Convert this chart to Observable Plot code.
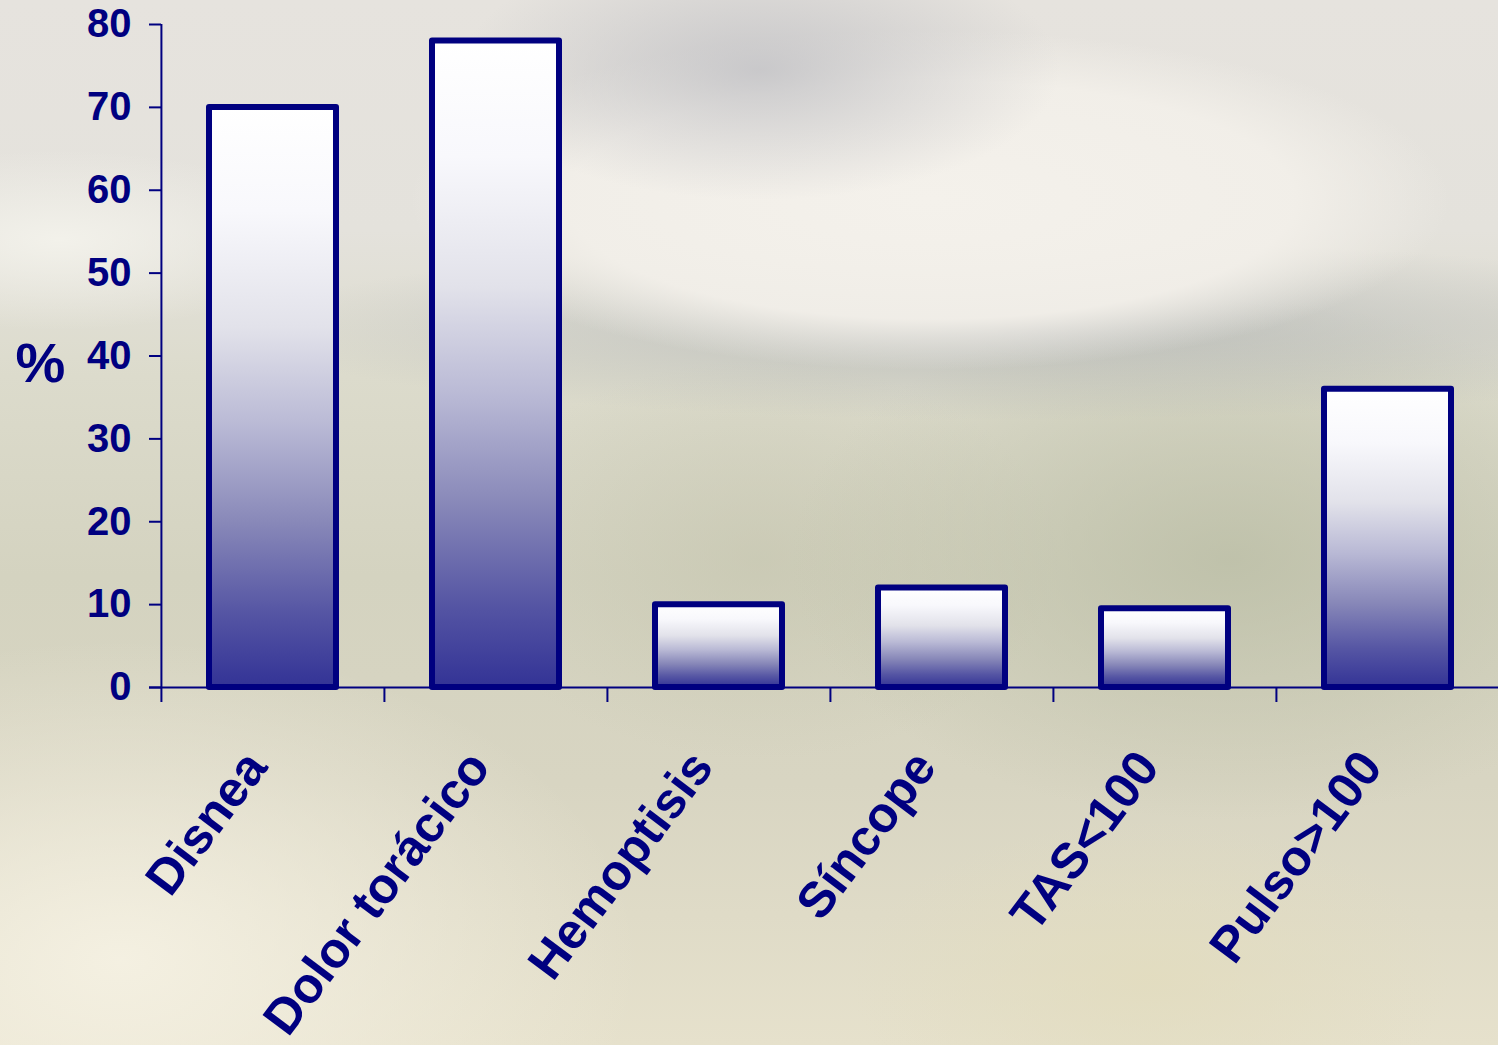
<!DOCTYPE html>
<html>
<head>
<meta charset="utf-8">
<script src="https://cdn.jsdelivr.net/npm/d3@7"></script>
<script src="https://cdn.jsdelivr.net/npm/@observablehq/plot@0.6"></script>
<style>
  html, body { margin: 0; padding: 0; width: 1498px; height: 1045px; overflow: hidden; }
  body {
    background:
      radial-gradient(ellipse 300px 130px at 760px 70px, rgba(192,192,196,0.8), rgba(192,192,196,0) 100%),
      radial-gradient(ellipse 520px 170px at 930px 200px, rgba(244,241,235,1) 0%, rgba(242,239,233,0.95) 70%, rgba(242,239,233,0) 100%),
      radial-gradient(ellipse 780px 90px at 1020px 330px, rgba(168,172,176,0.6), rgba(168,172,176,0) 100%),
      radial-gradient(ellipse 260px 90px at 60px 240px, rgba(244,243,236,0.9), rgba(244,243,236,0) 100%),
      radial-gradient(ellipse 440px 260px at 1230px 560px, rgba(186,189,165,0.8), rgba(186,189,165,0) 100%),
      radial-gradient(ellipse 300px 200px at 760px 560px, rgba(196,196,174,0.6), rgba(196,196,174,0) 100%),
      radial-gradient(ellipse 520px 320px at 120px 960px, rgba(246,242,228,0.9), rgba(246,242,228,0) 100%),
      radial-gradient(ellipse 300px 160px at 1150px 980px, rgba(226,220,190,0.8), rgba(226,220,190,0) 100%),
      linear-gradient(to bottom, #e6e3de 0%, #e4e2dc 22%, #dcdbcc 36%, #d4d3c0 55%, #d8d5c2 75%, #e6e1cc 100%);
    font-family: "Liberation Sans", Arial, sans-serif;
  }
</style>
</head>
<body>
<div id="chart"></div>
<script>
const categories = ["Disnea", "Dolor torácico", "Hemoptisis", "Síncope", "TAS<100", "Pulso>100"];
const values = [70, 78, 10, 12, 9.5, 36];
const yTicks = [0, 10, 20, 30, 40, 50, 60, 70, 80];
const yLabel = "%";

const navy = "#000080";
const data = categories.map((c, i) => ({cat: c, value: values[i]}));

const W = 1498, H = 1045;
const mLeft = 161, mTop = 24, mBottom = 358;
const xRange = [161, 1500];
const step = (xRange[1] - xRange[0]) / categories.length;

const gradientDefs = () => {
  const defs = d3.create("svg:defs");
  const g = defs.append("linearGradient")
    .attr("id", "barGrad").attr("x1", 0).attr("y1", 0).attr("x2", 0).attr("y2", 1);
  [[0, "#ffffff"], [0.18, "#f8f8fc"], [0.38, "#e2e2ea"], [0.55, "#b9b9d5"], [0.72, "#8787b8"], [0.87, "#5656a4"], [1, "#333396"]]
    .forEach(([o, c]) => g.append("stop").attr("offset", o).attr("stop-color", c));
  return defs.node();
};

const chart = Plot.plot({
  width: W,
  height: H,
  marginLeft: mLeft,
  marginRight: 0,
  marginTop: mTop,
  marginBottom: mBottom,
  style: {background: "transparent", overflow: "visible", color: navy, fontFamily: "'Liberation Sans', Arial, sans-serif"},
  x: {domain: categories, range: xRange, paddingInner: 0.43, paddingOuter: 0.215, axis: null},
  y: {domain: [0, 80], axis: null},
  marks: [
    gradientDefs,
    Plot.ruleY([0], {stroke: navy, strokeWidth: 2, insetLeft: -12}),
    Plot.ruleX(categories, {x: d => d, dx: -step / 2, y1: d => d === categories[0] ? 80 : 0, y2: 0, insetBottom: -15, stroke: navy, strokeWidth: 2}),
    Plot.axisY({ticks: yTicks, tickSize: 12, tickPadding: 18, fontSize: 40, fontWeight: "bold", strokeWidth: 2, label: null, fill: navy, stroke: navy}),
    Plot.barY(data, {x: "cat", y: "value", fill: "url(#barGrad)", stroke: navy, strokeWidth: 6, strokeLinejoin: "round"}),
    Plot.text(categories, {x: d => d, text: d => d, frameAnchor: "bottom", rotate: -53, textAnchor: "end", lineAnchor: "bottom", dy: 80, dx: -4, fontSize: 50, fontWeight: "bold", fill: navy}),
    Plot.text([yLabel], {text: d => d, frameAnchor: "left", dx: -121, dy: 8, textAnchor: "middle", fontSize: 56, fontWeight: "bold", fill: navy})
  ]
});
document.getElementById("chart").appendChild(chart);
</script>
</body>
</html>
